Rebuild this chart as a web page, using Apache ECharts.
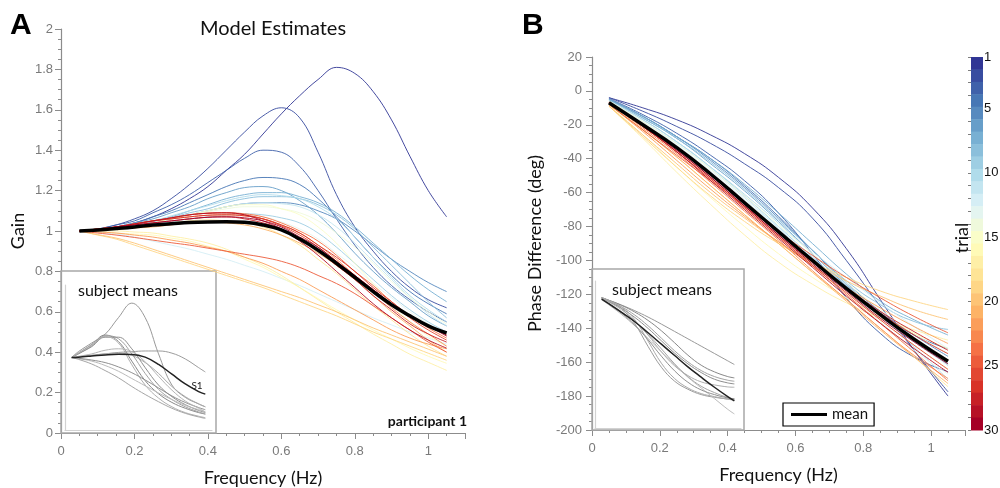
<!DOCTYPE html>
<html><head><meta charset="utf-8">
<script src="https://cdn.jsdelivr.net/npm/echarts@6/dist/echarts.min.js"></script>
<style>html,body{margin:0;padding:0;background:#fff}#c{width:1000px;height:488px}</style>
</head><body><div id="c"></div>
<script>
// ---------- data ----------
const freqA = [0.05,0.10,0.15,0.20,0.25,0.30,0.35,0.40,0.45,0.50,0.55,0.60,0.65,0.70,0.75,0.80,0.85,0.90,0.95,1.00,1.05];
const freqB = [0.05,0.15,0.25,0.35,0.45,0.55,0.65,0.75,0.85,0.95,1.05];
const freqInset = [0.05,0.1,0.2,0.3,0.4,0.5,0.6,0.7,0.8,0.9,1.0,1.05];
const xTickLabels = [0,0.2,0.4,0.6,0.8,1];
const trialTickLabels = [1,5,10,15,20,25,30];
const trials = Array.from({length:30},(_,i)=>i+1);

const gainTrials = [
 [1.00,1.005,1.02,1.04,1.07,1.11,1.16,1.22,1.30,1.38,1.48,1.58,1.67,1.75,1.81,1.78,1.69,1.55,1.37,1.20,1.07],
 [1.00,1.01,1.03,1.06,1.10,1.16,1.23,1.31,1.40,1.49,1.57,1.61,1.56,1.39,1.18,1.02,0.90,0.80,0.72,0.66,0.62],
 [1.00,1.01,1.03,1.05,1.09,1.13,1.18,1.24,1.30,1.36,1.40,1.39,1.32,1.20,1.06,0.93,0.82,0.73,0.66,0.60,0.55],
 [1.00,1.005,1.02,1.04,1.07,1.10,1.14,1.18,1.22,1.25,1.265,1.26,1.23,1.16,1.07,0.97,0.87,0.78,0.70,0.64,0.59],
 [1.00,1.005,1.01,1.025,1.04,1.06,1.08,1.10,1.12,1.135,1.14,1.14,1.13,1.10,1.06,1.00,0.93,0.86,0.80,0.745,0.70],
 [1.00,1.005,1.02,1.04,1.06,1.09,1.12,1.16,1.19,1.215,1.22,1.20,1.15,1.08,0.99,0.89,0.80,0.72,0.65,0.58,0.53],
 [1.00,1.005,1.015,1.03,1.05,1.07,1.10,1.13,1.16,1.18,1.19,1.19,1.17,1.14,1.09,1.02,0.94,0.86,0.78,0.71,0.65],
 [1.00,1.005,1.015,1.03,1.045,1.065,1.09,1.11,1.14,1.16,1.17,1.17,1.16,1.13,1.08,1.01,0.92,0.83,0.74,0.65,0.57],
 [1.00,1.005,1.01,1.02,1.03,1.045,1.06,1.07,1.08,1.085,1.08,1.065,1.04,0.99,0.92,0.84,0.76,0.68,0.61,0.55,0.50],
 [1.00,1.005,1.02,1.035,1.05,1.075,1.10,1.125,1.15,1.17,1.18,1.175,1.16,1.12,1.06,0.97,0.87,0.77,0.68,0.61,0.55],
 [1.00,1.005,1.015,1.025,1.04,1.06,1.08,1.10,1.12,1.135,1.14,1.135,1.12,1.08,1.02,0.94,0.85,0.76,0.67,0.59,0.53],
 [1.00,0.995,0.985,0.97,0.95,0.93,0.91,0.885,0.86,0.83,0.80,0.765,0.73,0.69,0.65,0.61,0.57,0.535,0.50,0.47,0.44],
 [1.00,1.005,1.01,1.02,1.03,1.045,1.06,1.07,1.08,1.08,1.07,1.045,1.01,0.96,0.89,0.82,0.74,0.67,0.60,0.54,0.48],
 [1.00,1.005,1.015,1.025,1.04,1.06,1.08,1.095,1.11,1.12,1.12,1.11,1.09,1.05,0.99,0.92,0.84,0.75,0.67,0.60,0.54],
 [1.00,1.005,1.01,1.025,1.04,1.06,1.08,1.10,1.12,1.13,1.13,1.11,1.08,1.02,0.94,0.84,0.74,0.64,0.55,0.48,0.43],
 [1.00,0.997,0.99,0.985,0.98,0.965,0.95,0.925,0.90,0.86,0.82,0.77,0.72,0.665,0.61,0.56,0.51,0.465,0.42,0.38,0.345],
 [1.00,1.00,1.00,0.995,0.99,0.975,0.96,0.94,0.91,0.87,0.83,0.78,0.72,0.66,0.60,0.545,0.49,0.44,0.39,0.35,0.31],
 [1.00,1.005,1.01,1.02,1.03,1.04,1.05,1.055,1.05,1.04,1.02,0.98,0.93,0.86,0.79,0.71,0.63,0.56,0.49,0.43,0.38],
 [1.00,0.98,0.96,0.93,0.90,0.87,0.84,0.81,0.78,0.75,0.72,0.685,0.65,0.615,0.58,0.54,0.50,0.465,0.43,0.395,0.36],
 [1.00,0.982,0.965,0.94,0.91,0.88,0.85,0.82,0.79,0.76,0.73,0.70,0.67,0.635,0.60,0.56,0.52,0.485,0.45,0.415,0.38],
 [1.00,1.003,1.01,1.015,1.02,1.03,1.04,1.045,1.04,1.03,1.01,0.98,0.94,0.89,0.83,0.76,0.68,0.60,0.53,0.46,0.40],
 [1.00,0.995,0.99,0.98,0.97,0.955,0.94,0.92,0.90,0.87,0.84,0.80,0.76,0.71,0.66,0.61,0.56,0.51,0.47,0.44,0.417],
 [1.00,1.01,1.02,1.035,1.05,1.06,1.07,1.078,1.08,1.075,1.06,1.03,0.99,0.93,0.86,0.78,0.70,0.62,0.55,0.49,0.43],
 [1.00,1.01,1.02,1.035,1.05,1.065,1.08,1.088,1.09,1.085,1.07,1.04,1.00,0.95,0.88,0.80,0.73,0.65,0.58,0.52,0.47],
 [1.00,0.99,0.98,0.968,0.955,0.942,0.93,0.915,0.90,0.885,0.87,0.85,0.82,0.78,0.74,0.69,0.63,0.57,0.51,0.45,0.40],
 [1.00,1.01,1.02,1.035,1.05,1.065,1.08,1.088,1.09,1.08,1.06,1.025,0.98,0.92,0.85,0.78,0.71,0.64,0.57,0.51,0.46],
 [1.00,1.01,1.02,1.035,1.05,1.06,1.07,1.078,1.08,1.075,1.06,1.03,0.99,0.93,0.87,0.80,0.72,0.65,0.58,0.53,0.485],
 [1.00,1.005,1.02,1.03,1.04,1.05,1.06,1.068,1.07,1.06,1.04,1.01,0.96,0.90,0.83,0.76,0.68,0.61,0.54,0.49,0.45],
 [1.00,1.01,1.02,1.035,1.05,1.065,1.08,1.088,1.09,1.08,1.05,1.01,0.95,0.88,0.80,0.72,0.64,0.57,0.51,0.46,0.42],
 [1.00,1.005,1.02,1.03,1.04,1.05,1.06,1.068,1.07,1.065,1.05,1.02,0.97,0.92,0.85,0.78,0.71,0.64,0.58,0.53,0.48]
];
const gainMean = [1.00,1.005,1.012,1.02,1.03,1.036,1.042,1.045,1.046,1.043,1.03,1.005,0.96,0.905,0.84,0.77,0.70,0.635,0.58,0.53,0.495];

const phaseTrials = [
 [-4,-10,-17,-26,-37,-51,-69,-93,-123,-153,-180],
 [-4,-12,-21,-31,-43,-57,-75,-100,-127,-153,-177.5],
 [-4.5,-14,-25,-38,-53,-72,-96,-122,-143,-157,-165.6],
 [-5,-15,-27,-40,-56,-74,-94,-114,-131,-144,-152],
 [-5,-15,-27,-41,-57,-75,-94,-113,-130,-144,-156.6],
 [-5,-16,-28,-43,-59,-77,-96,-115,-133,-148,-161],
 [-5,-15,-27,-40,-55,-72,-90,-108,-124,-135,-144],
 [-5.5,-16,-28,-42,-58,-76,-94,-112,-126,-136,-140.7],
 [-6,-17,-30,-45,-62,-80,-98,-115,-131,-146,-162],
 [-6,-17,-30,-45,-61,-78,-96,-114,-132,-151,-170],
 [-6,-18,-31,-46,-63,-81,-99,-116,-133,-148,-161.7],
 [-7,-21,-35,-50,-65,-80,-95,-110,-125,-139,-152],
 [-6,-18,-32,-47,-64,-82,-100,-118,-136,-153,-167],
 [-6,-18,-31,-46,-62,-79,-96,-113,-129,-143,-155],
 [-7,-21,-36,-52,-69,-86,-103,-119,-135,-150,-164],
 [-8.5,-26,-45,-63,-80,-96,-110,-122,-133,-143,-152],
 [-9,-28,-48,-67,-85,-101,-114,-125,-134,-141,-147],
 [-8,-23,-39,-56,-73,-90,-107,-123,-140,-157,-174.5],
 [-9,-27,-45,-62,-77,-90,-101,-110,-118,-124,-129],
 [-9,-26,-43,-60,-75,-89,-101,-112,-121,-129,-134.8],
 [-8,-23,-39,-56,-73,-90,-107,-124,-141,-157,-172.6],
 [-8,-24,-41,-58,-74,-89,-103,-116,-128,-139,-149],
 [-7,-22,-37,-54,-71,-88,-106,-123,-140,-156,-169.6],
 [-7,-21,-36,-52,-69,-86,-103,-120,-137,-154,-171],
 [-8,-23,-38,-53,-68,-83,-97,-110,-122,-133,-142.7],
 [-7,-21,-36,-52,-69,-86,-103,-119,-135,-150,-164.3],
 [-7,-20,-34,-50,-67,-84,-101,-117,-131,-144,-155],
 [-7,-21,-35,-51,-68,-85,-101,-116,-130,-142,-153],
 [-7,-21,-36,-53,-70,-87,-104,-121,-137,-152,-166],
 [-7,-20,-35,-51,-68,-85,-102,-118,-134,-148,-161]
];
const phaseMean = [-7,-20,-33.5,-49,-66,-83,-100,-116.5,-132,-146.5,-159.5];

// inset: subject means (same axes, scaled down)
const subjGain = [
 [1.0,1.08,1.20,1.32,1.55,1.75,1.55,1.05,0.62,0.45,0.36,0.32],
 [1.0,1.06,1.18,1.31,1.22,0.95,0.68,0.50,0.38,0.30,0.24,0.22],
 [1.0,1.05,1.16,1.30,1.26,1.05,0.78,0.56,0.42,0.32,0.25,0.22],
 [1.0,1.05,1.15,1.28,1.28,1.12,0.86,0.62,0.46,0.35,0.27,0.24],
 [1.0,1.06,1.17,1.29,1.20,0.90,0.62,0.44,0.32,0.24,0.19,0.17],
 [1.0,1.01,1.03,1.05,1.07,1.08,1.09,1.09,1.06,0.98,0.86,0.80],
 [1.0,1.01,1.03,1.05,1.06,1.03,0.93,0.78,0.60,0.46,0.36,0.32],
 [1.0,0.985,0.95,0.89,0.81,0.71,0.61,0.51,0.42,0.34,0.28,0.25],
 [1.0,0.975,0.91,0.82,0.72,0.60,0.49,0.39,0.30,0.23,0.18,0.16],
 [1.0,0.99,0.965,0.93,0.87,0.79,0.69,0.58,0.47,0.38,0.31,0.28],
 [1.0,1.015,1.05,1.10,1.12,1.08,0.94,0.74,0.55,0.40,0.30,0.25]
];
const subjGainS1 = [1.0,1.005,1.02,1.036,1.045,1.043,1.005,0.905,0.77,0.635,0.53,0.495];
const subjPhase = [
 [-5,-8.5,-16,-24.5,-34,-44.5,-55.5,-66.5,-77.5,-88.5,-99.5,-105],
 [-5,-8.5,-16.5,-26.5,-39,-54.5,-72.5,-91,-106,-116,-123,-125],
 [-5,-9,-18.5,-31,-47,-65.5,-84.5,-101,-114,-123,-128.5,-130],
 [-6,-10.5,-21,-34.5,-51,-69.5,-88,-104,-117,-127,-132.5,-134],
 [-6,-11,-23,-39.5,-61,-86,-107,-121.5,-131,-135.5,-138.5,-139],
 [-5,-9,-21,-44,-78,-109,-130,-142,-150,-154,-156.5,-157],
 [-5,-9,-19,-38,-70,-103,-126,-140,-148.5,-153,-157,-158],
 [-8,-15,-30,-47,-66,-86,-105.5,-124,-140,-156,-172,-179],
 [-7,-13,-26,-41.5,-60,-81.5,-104,-123,-137.5,-147,-154.5,-157],
 [-7,-13.5,-28,-46,-68,-92.5,-114.5,-131.5,-143,-150,-155,-156]
];
const subjPhaseS1 = [-7,-13.5,-27,-41,-57.5,-74.5,-91.5,-108.5,-124,-139,-153,-159.5];

// ---------- styles ----------
const palette = ['#313695','#4575b4','#74add1','#abd9e9','#e0f3f8','#ffffbf','#fee090','#fdae61','#f46d43','#d73027','#a50026'];
const grays = ['#999','#888','#a3a3a3','#8e8e8e','#b0b0b0','#9c9c9c','#aaa','#bbb','#a5a5a5','#909090','#b5b5b5'];
function hex(h){return [1,3,5].map(i=>parseInt(h.substr(i,2),16));}
function trialColor(t){
  const p=(t-1)/29*(palette.length-1);
  const i=Math.min(Math.floor(p),palette.length-2), f=p-i;
  const a=hex(palette[i]), b=hex(palette[i+1]);
  return 'rgb('+a.map((v,k)=>Math.round(v+(b[k]-v)*f)).join(',')+')';
}
const axisGray='#8c8c8c', labelGray='#7a7a7a';
const numFont={color:labelGray,fontSize:13,fontFamily:'Liberation Sans, Arial, sans-serif'};
const nameFont={color:'#111',fontSize:18,fontFamily:'Lato, sans-serif'};
const pairs=(xs,ys)=>xs.map((f,j)=>[f,ys[j]]);
const isMajor=v=>xTickLabels.some(t=>Math.abs(t-v)<1e-6);

function mainX(grid){
  return {gridIndex:grid,type:'value',min:0,max:1.1,interval:0.2,position:'bottom',
    name:'Frequency (Hz)',nameLocation:'middle',nameGap:36,nameTextStyle:nameFont,
    axisLine:{show:true,onZero:false,lineStyle:{color:axisGray,width:1.2}},
    axisTick:{show:true,length:6,lineStyle:{color:axisGray}},
    axisLabel:Object.assign({margin:12,formatter:v=>isMajor(v)?String(+v.toFixed(1)):''},numFont),
    splitLine:{show:false}};
}
function minorX(grid){
  return {gridIndex:grid,type:'value',min:0,max:1.1,interval:0.05,position:'bottom',
    axisLine:{show:false,onZero:false},axisTick:{show:true,length:3,lineStyle:{color:axisGray}},
    axisLabel:{show:false},splitLine:{show:false}};
}
function insetAxis(grid,min,max,isX){
  return {gridIndex:grid,type:'value',min:min,max:max,position:isX?'bottom':'left',
    axisLine:{show:true,onZero:false,lineStyle:{color:'#d2d2d2',width:1.2}},
    axisTick:{show:false},axisLabel:{show:false},splitLine:{show:false}};
}

const series=[];
gainTrials.forEach((ys,i)=>series.push({type:'line',xAxisIndex:0,yAxisIndex:0,data:pairs(freqA,ys),smooth:0.4,
  symbol:'none',silent:true,lineStyle:{width:1,color:trialColor(i+1),opacity:0.9},z:2}));
series.push({name:'meanA',type:'line',xAxisIndex:0,yAxisIndex:0,data:pairs(freqA,gainMean),smooth:0.4,symbol:'none',
  silent:true,lineStyle:{width:3.5,color:'#000'},itemStyle:{color:'#000'},z:5});
subjGain.forEach((ys,i)=>series.push({type:'line',xAxisIndex:2,yAxisIndex:1,data:pairs(freqInset,ys),smooth:0.4,
  symbol:'none',silent:true,lineStyle:{width:1,color:grays[i%grays.length]},z:3}));
series.push({type:'line',xAxisIndex:2,yAxisIndex:1,data:pairs(freqInset,subjGainS1),smooth:0.4,symbol:'none',silent:true,
  lineStyle:{width:1.5,color:'#222'},z:4});
phaseTrials.forEach((ys,i)=>series.push({type:'line',xAxisIndex:3,yAxisIndex:2,data:pairs(freqB,ys),smooth:0.5,
  symbol:'none',silent:true,lineStyle:{width:1,color:trialColor(i+1),opacity:0.9},z:2}));
series.push({name:'mean',type:'line',xAxisIndex:3,yAxisIndex:2,data:pairs(freqB,phaseMean),smooth:0.5,symbol:'none',
  silent:true,lineStyle:{width:3.5,color:'#000'},itemStyle:{color:'#000'},z:5});
subjPhase.forEach((ys,i)=>series.push({type:'line',xAxisIndex:5,yAxisIndex:3,data:pairs(freqInset,ys),smooth:0.4,
  symbol:'none',silent:true,lineStyle:{width:1,color:grays[i%grays.length]},z:3}));
series.push({type:'line',xAxisIndex:5,yAxisIndex:3,data:pairs(freqInset,subjPhaseS1),smooth:0.4,symbol:'none',silent:true,
  lineStyle:{width:1.5,color:'#222'},z:4});
// colour bar cells
series.push({type:'custom',xAxisIndex:6,yAxisIndex:4,silent:true,data:trials,
  renderItem:function(params,api){
    const t=api.value(0);
    const p1=api.coord([0,1+(t-1)*29/30]), p2=api.coord([1,1+t*29/30]);
    return {type:'rect',shape:{x:Math.min(p1[0],p2[0]),y:Math.min(p1[1],p2[1]),
      width:Math.abs(p2[0]-p1[0]),height:Math.abs(p2[1]-p1[1])+0.5},
      style:{fill:trialColor(t)}};
  },encode:{y:0},z:2});

const g=(o)=>Object.assign({outerBoundsMode:'none',containLabel:false},o);
const option={
  animation:false,
  backgroundColor:'#fff',
  grid:[
    g({left:61,top:29,width:404,height:404}),
    g({left:65,top:285,width:147,height:145}),
    g({left:592,top:57,width:373,height:373}),
    g({left:595,top:281,width:146,height:147}),
    g({left:971,top:57,width:12,height:373})
  ],
  xAxis:[
    mainX(0),minorX(0),insetAxis(1,0,1.1,true),
    mainX(2),minorX(2),insetAxis(3,0,1.1,true),
    {gridIndex:4,type:'value',min:0,max:1,show:false}
  ],
  yAxis:[
    {gridIndex:0,type:'value',min:0,max:2,interval:0.2,name:'Gain',nameLocation:'middle',nameGap:34,
     nameTextStyle:nameFont,axisLine:{show:true,lineStyle:{color:axisGray,width:1.2}},
     axisTick:{show:true,length:6,lineStyle:{color:axisGray}},
     minorTick:{show:true,splitNumber:4,length:3,lineStyle:{color:axisGray}},
     axisLabel:Object.assign({margin:8},numFont),splitLine:{show:false},minorSplitLine:{show:false}},
    insetAxis(1,0,2,false),
    {gridIndex:2,type:'value',min:-200,max:20,interval:20,name:'Phase Difference (deg)',nameLocation:'middle',nameGap:48,
     nameTextStyle:nameFont,axisLine:{show:true,lineStyle:{color:axisGray,width:1.2}},
     axisTick:{show:true,length:6,lineStyle:{color:axisGray}},
     minorTick:{show:true,splitNumber:4,length:3,lineStyle:{color:axisGray}},
     axisLabel:Object.assign({margin:10},numFont),splitLine:{show:false},minorSplitLine:{show:false}},
    insetAxis(3,-200,20,false),
    {gridIndex:4,type:'value',min:1,max:30,interval:1,inverse:true,position:'right',
     axisLine:{show:false},axisTick:{show:true,inside:true,length:3,lineStyle:{color:'rgba(40,40,40,0.6)'}},
     axisLabel:{margin:1,color:'#111',fontSize:13,fontFamily:'Liberation Sans Narrow, sans-serif',
       formatter:v=>trialTickLabels.indexOf(Math.round(v))>=0&&Math.abs(v-Math.round(v))<1e-6?String(Math.round(v)):''},
     splitLine:{show:false}}
  ],
  legend:{show:true,data:[{name:'mean',icon:'rect'}],left:783,top:403,itemWidth:36,itemHeight:3,
    padding:[4,6,4,8],borderColor:'#000',borderWidth:1.2,backgroundColor:'#fff',selectedMode:false,
    textStyle:{fontSize:15,fontFamily:'Lato, sans-serif',color:'#111'}},
  graphic:[
    {type:'rect',shape:{x:61,y:271,width:155,height:162},style:{fill:'none',stroke:'#a8a8a8',lineWidth:1.5},z:1},
    {type:'rect',shape:{x:592,y:269,width:152,height:161},style:{fill:'none',stroke:'#a8a8a8',lineWidth:1.5},z:1},
    {type:'text',x:10,y:11,style:{text:'A',fontSize:30,fontWeight:'bold',fontFamily:'Liberation Sans, Arial, sans-serif',fill:'#000'}},
    {type:'text',x:522,y:11,style:{text:'B',fontSize:30,fontWeight:'bold',fontFamily:'Liberation Sans, Arial, sans-serif',fill:'#000'}},
    {type:'text',x:273,y:29,style:{text:'Model Estimates',fontSize:20,fontFamily:'Lato, sans-serif',fill:'#111',textAlign:'center',textVerticalAlign:'middle'}},
    {type:'text',x:467,y:421,style:{text:'participant 1',fontSize:14,fontWeight:'bold',fontFamily:'Lato, sans-serif',fill:'#111',textAlign:'right',textVerticalAlign:'middle'}},
    {type:'text',x:128,y:291,style:{text:'subject means',fontSize:16,fontFamily:'Lato, sans-serif',fill:'#111',textAlign:'center',textVerticalAlign:'middle'}},
    {type:'text',x:662,y:290,style:{text:'subject means',fontSize:16,fontFamily:'Lato, sans-serif',fill:'#111',textAlign:'center',textVerticalAlign:'middle'}},
    {type:'text',x:197,y:386,style:{text:'S1',fontSize:10,fontFamily:'Lato, sans-serif',fill:'#222',textAlign:'center',textVerticalAlign:'middle'}},
    {type:'text',x:962,y:238,rotation:Math.PI/2,style:{text:'trial',fontSize:18,fontFamily:'Lato, sans-serif',fill:'#111',textAlign:'center',textVerticalAlign:'middle'}}
  ],
  series:series
};
const chart=echarts.init(document.getElementById('c'),null,{renderer:'canvas'});
chart.setOption(option);
</script>
</body></html>
